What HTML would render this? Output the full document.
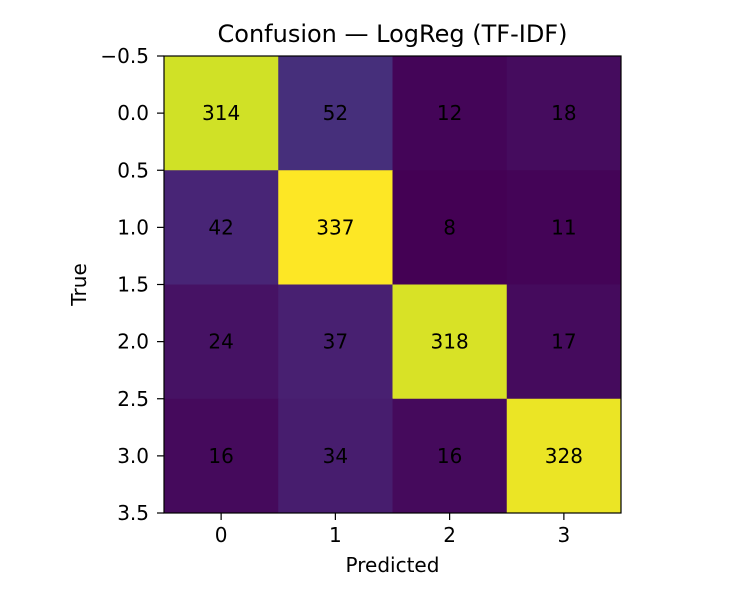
<!DOCTYPE html>
<html><head><meta charset="utf-8"><style>
body{margin:0;background:#fff;font-family:"Liberation Sans","DejaVu Sans",sans-serif;}
</style></head><body>
<svg id="chart" width="750" height="600" xmlns="http://www.w3.org/2000/svg" font-family="DejaVu Sans, Liberation Sans, sans-serif">
<rect width="750" height="600" fill="#fff"/>
<text x="392.5" y="42" text-anchor="middle" font-size="24">Confusion — LogReg (TF-IDF)</text>
<g id="cells"></g>
<rect x="164" y="56" width="457" height="457" fill="none" stroke="#000" stroke-width="1.2"/>
<g id="ticks"></g>
<text x="392.5" y="572" text-anchor="middle" font-size="20">Predicted</text>
<text transform="translate(86,284.5) rotate(-90)" text-anchor="middle" font-size="20">True</text>
</svg>
<script>
const classes=[0,1,2,3];
const matrix=[[314,52,12,18],[42,337,8,11],[24,37,318,17],[16,34,16,328]];
const yTicks=[-0.5,0,0.5,1,1.5,2,2.5,3,3.5];
const yTickLabels=["\u22120.5","0.0","0.5","1.0","1.5","2.0","2.5","3.0","3.5"];
const xTicks=[0,1,2,3];

const L=164,T=56,W=457,H=457;
const xs=v=>L+(v+0.5)/4*W, ys=v=>T+(v+0.5)/4*H;
const vir=["#440154","#482475","#414487","#355f8d","#2a788e","#21918c","#22a884","#44bf70","#7ad151","#bddf26","#fde725"];
function hex(h){return [1,3,5].map(i=>parseInt(h.substr(i,2),16));}
function cmap(t){t=Math.max(0,Math.min(1,t));const p=t*10,i=Math.min(9,Math.floor(p)),f=p-i;const a=hex(vir[i]),b=hex(vir[i+1]);return "rgb("+a.map((c,k)=>Math.round(c+(b[k]-c)*f)).join(",")+")";}
const flat=matrix.flat(),mn=Math.min(...flat),mx=Math.max(...flat);
const NS="http://www.w3.org/2000/svg";
const cg=document.getElementById('cells'),tg=document.getElementById('ticks');
matrix.forEach((row,r)=>row.forEach((v,c)=>{
 const rc=document.createElementNS(NS,'rect');
 rc.setAttribute('x',xs(c-0.5));rc.setAttribute('y',ys(r-0.5));
 rc.setAttribute('width',W/4+0.5);rc.setAttribute('height',H/4+0.5);
 rc.setAttribute('fill',cmap((v-mn)/(mx-mn)));
 
 
 cg.appendChild(rc);
 const t=document.createElementNS(NS,'text');
 t.setAttribute('x',xs(c));t.setAttribute('y',ys(r)+7);
 t.setAttribute('text-anchor','middle');t.setAttribute('font-size','20');
 t.textContent=v;
 
 
 cg.appendChild(t);
}));
yTicks.forEach((v,i)=>{
 const y=ys(v);
 const l=document.createElementNS(NS,'line');
 l.setAttribute('x1',L-7);l.setAttribute('x2',L);l.setAttribute('y1',y);l.setAttribute('y2',y);l.setAttribute('stroke','#000');l.setAttribute('stroke-width','1.2');
 
 
 tg.appendChild(l);
 const t=document.createElementNS(NS,'text');
 t.setAttribute('x',L-15);t.setAttribute('y',y+7);t.setAttribute('text-anchor','end');t.setAttribute('font-size','20');
 t.textContent=yTickLabels[i];
 
 
 tg.appendChild(t);
});
xTicks.forEach(v=>{
 const x=xs(v);
 const l=document.createElementNS(NS,'line');
 l.setAttribute('x1',x);l.setAttribute('x2',x);l.setAttribute('y1',T+H);l.setAttribute('y2',T+H+7);l.setAttribute('stroke','#000');l.setAttribute('stroke-width','1.2');
 
 
 tg.appendChild(l);
 const t=document.createElementNS(NS,'text');
 t.setAttribute('x',x);t.setAttribute('y',T+H+29);t.setAttribute('text-anchor','middle');t.setAttribute('font-size','20');
 t.textContent=classes[v];
 
 
 tg.appendChild(t);
});
</script>
</body></html>
